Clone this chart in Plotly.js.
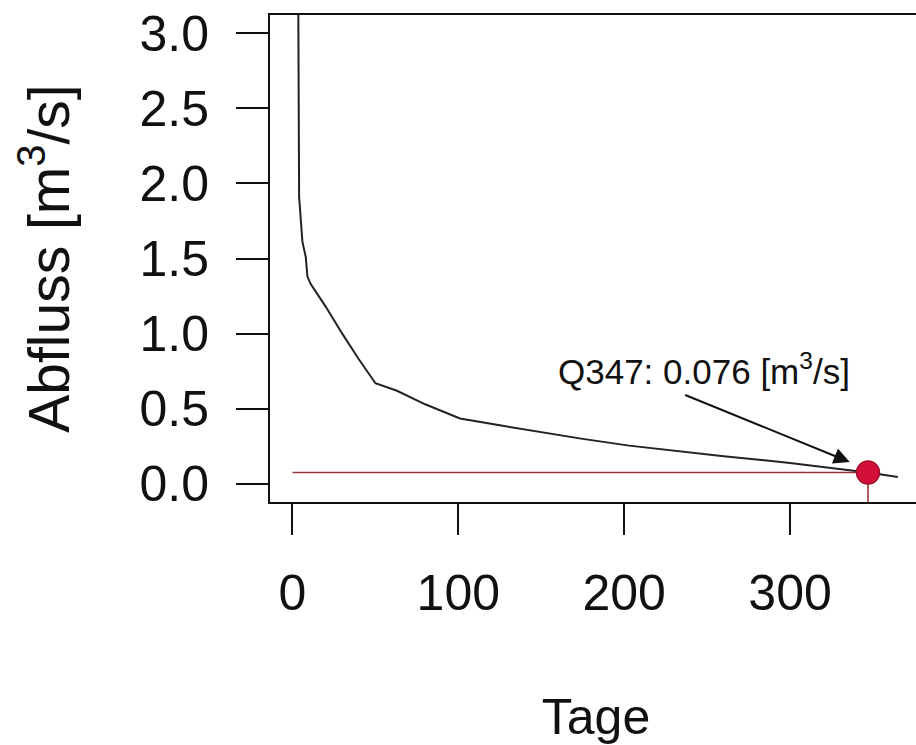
<!DOCTYPE html>
<html>
<head>
<meta charset="utf-8">
<script src="https://cdn.plot.ly/plotly-3.0.1.min.js"></script>
<style>
html, body { margin: 0; padding: 0; overflow: hidden; background: #fff; }
#chart { width: 922px; height: 745px; }
</style>
</head>
<body>
<div id="chart"></div>
<script>
// Flow duration curve (Dauerkurve)
const days = [1, 2, 3, 4, 5, 6, 8, 9, 11, 20, 30, 40, 50, 63, 80, 101, 125, 150, 175, 203, 230, 260, 300, 326, 347, 365];
const discharge = [9.5, 6.2, 4.4, 1.91, 1.74, 1.61, 1.51, 1.38, 1.33, 1.18, 1.00, 0.83, 0.67, 0.62, 0.53, 0.436, 0.39, 0.345, 0.30, 0.255, 0.22, 0.185, 0.14, 0.104, 0.076, 0.046];

const q347Day = 347;
const q347Value = 0.076;
const q347Label = "Q347: 0.076 [m<sup>3</sup>/s]";

const xTicks = [0, 100, 200, 300];
const yTicks = [0, 0.5, 1.0, 1.5, 2.0, 2.5, 3.0];
const yTickLabels = ["0.0", "0.5", "1.0", "1.5", "2.0", "2.5", "3.0"];

// arrow in data units: tail near label, tip near point
const arrowTail = [235, 0.60];
const arrowTip = [336, 0.146];
const labelPos = [248, 0.765];

const font = "Liberation Sans, Arial, sans-serif";

const traces = [
  {
    x: days, y: discharge, type: "scatter", mode: "lines",
    line: { color: "#222222", width: 2 }, hoverinfo: "skip", showlegend: false
  },
  {
    x: [0, q347Day], y: [q347Value, q347Value], type: "scatter", mode: "lines",
    line: { color: "#9a3535", width: 1.6 }, hoverinfo: "skip", showlegend: false
  },
  {
    x: [q347Day, q347Day], y: [q347Value, -1], type: "scatter", mode: "lines",
    line: { color: "#9a3535", width: 1.6 }, hoverinfo: "skip", showlegend: false
  },
  {
    x: [q347Day], y: [q347Value], type: "scatter", mode: "markers",
    marker: { color: "#d2103a", size: 23, symbol: "circle", line: { color: "#a0102a", width: 1.5 } },
    hoverinfo: "skip", showlegend: false
  }
];

const layout = {
  width: 922, height: 745,
  margin: { l: 270, r: 0, t: 15, b: 243 },
  paper_bgcolor: "#ffffff", plot_bgcolor: "#ffffff",
  font: { family: font, color: "#111111" },
  xaxis: {
    range: [-13.56, 379.56], tickvals: xTicks, ticktext: xTicks.map(String),
    showgrid: false, zeroline: false,
    showline: true, mirror: true, linecolor: "#111111", linewidth: 2,
    ticks: "outside", ticklen: 31, tickwidth: 2, tickcolor: "#111111",
    tickfont: { size: 50, family: font, color: "#111111" },
    ticklabelstandoff: 15,
    title: { text: "Tage", font: { size: 50, family: font, color: "#111111" }, standoff: 80 },
    automargin: false
  },
  yaxis: {
    range: [-0.12, 3.12], tickvals: yTicks, ticktext: yTickLabels,
    showgrid: false, zeroline: false,
    showline: true, mirror: true, linecolor: "#111111", linewidth: 2,
    ticks: "outside", ticklen: 32, tickwidth: 2, tickcolor: "#111111",
    tickfont: { size: 50, family: font, color: "#111111" },
    ticklabelstandoff: 17,
    title: { text: "Abfluss [m<sup>3</sup>/s]", font: { size: 57, family: font, color: "#111111" }, standoff: 52 },
    automargin: false
  },
  annotations: [
    {
      x: arrowTip[0], y: arrowTip[1], xref: "x", yref: "y",
      ax: arrowTail[0], ay: arrowTail[1], axref: "x", ayref: "y",
      text: " ", showarrow: true, arrowhead: 2, arrowsize: 1.6, arrowwidth: 2,
      arrowcolor: "#111111", standoff: 0, startstandoff: 0
    },
    {
      x: labelPos[0], y: labelPos[1], xref: "x", yref: "y",
      text: q347Label, showarrow: false,
      font: { size: 35, family: font, color: "#111111" },
      xanchor: "center", yanchor: "middle"
    }
  ]
};

Plotly.newPlot("chart", traces, layout, { staticPlot: true, displayModeBar: false });
</script>
</body>
</html>
